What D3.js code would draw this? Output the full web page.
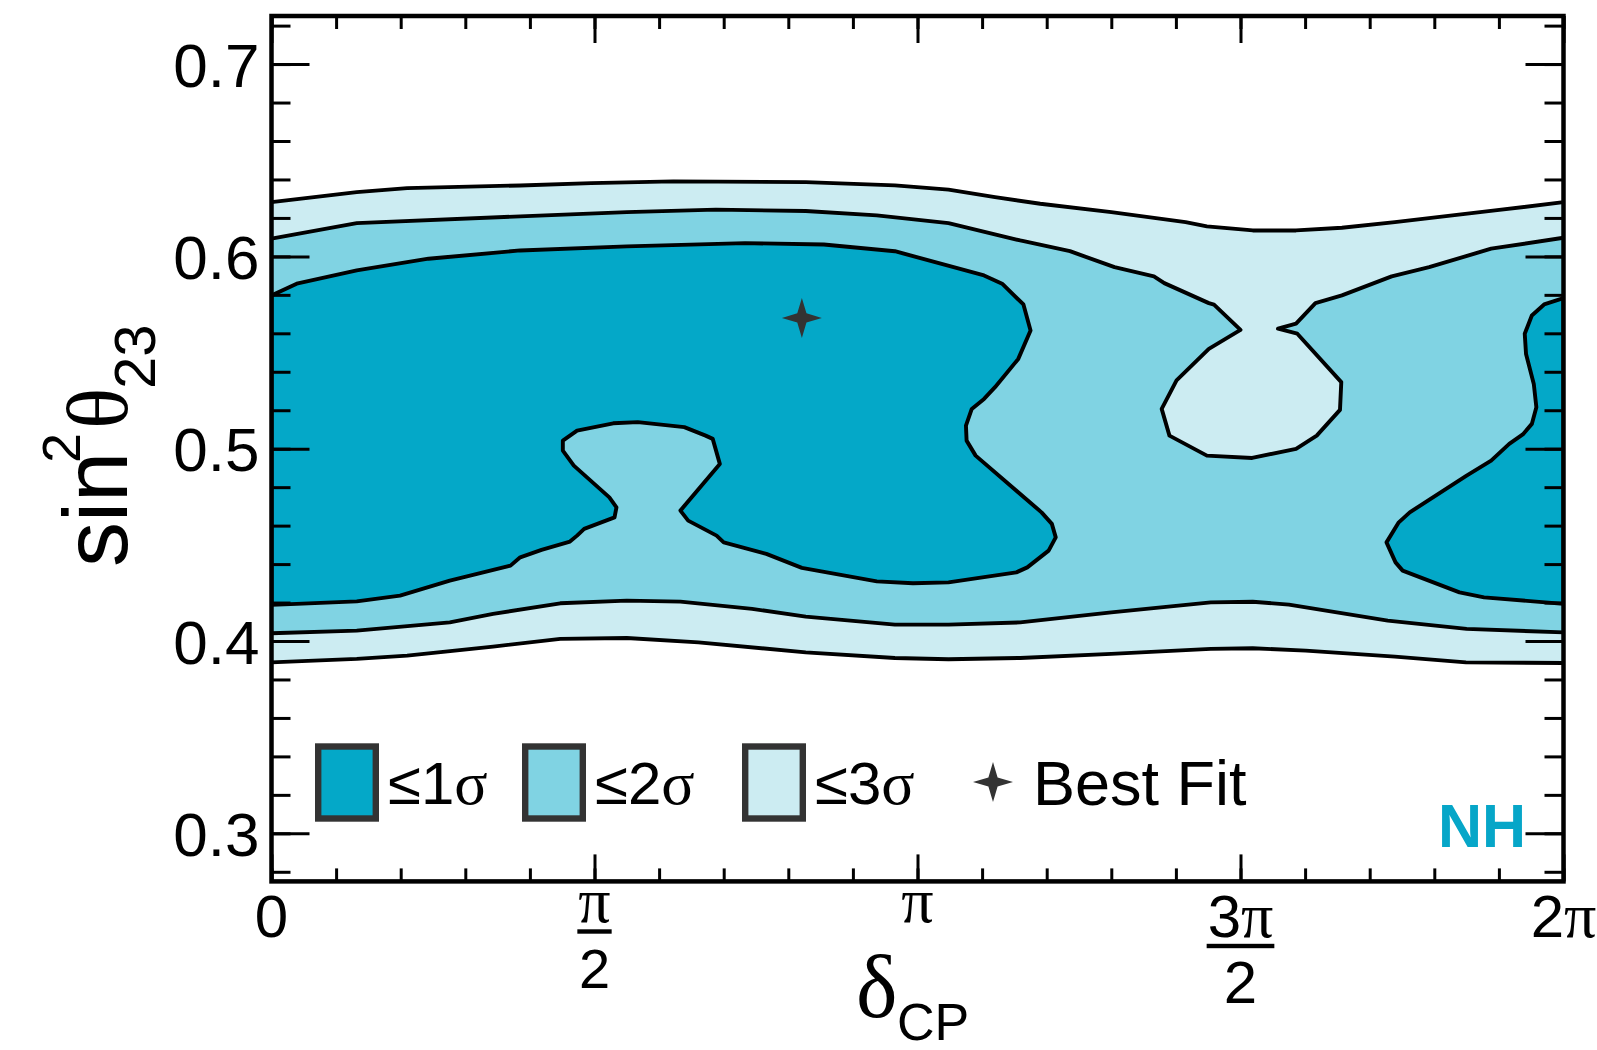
<!DOCTYPE html>
<html>
<head>
<meta charset="utf-8">
<script src="https://cdn.jsdelivr.net/npm/d3@7"></script>
<style>
  html, body { margin: 0; padding: 0; background: #fff; }
  svg { display: block; }
  .sans { font-family: "Liberation Sans", Arial, Helvetica, sans-serif; }
  .serif { font-family: "Liberation Serif", "Times New Roman", serif; }
</style>
</head>
<body>
<svg id="chart" width="1597" height="1050"></svg>
<script>
// δCP values are given in units of π; sin²θ23 is plotted directly.
const xMajorTicks = [0, 0.5, 1, 1.5, 2];
const xMinorTicks = d3.range(0, 2.0001, 0.1);
const yMajorTicks = [0.3, 0.4, 0.5, 0.6, 0.7];
const yMinorTicks = d3.range(0.28, 0.7201, 0.02);

// tick labels on the δCP axis: [numerator, denominator] (denominator empty when none)
const xTickLabels = [["0", ""], ["π", "2"], ["π", ""], ["3π", "2"], ["2π", ""]];

// 3σ allowed region: upper and lower boundaries
const sigma3Upper = [[0,0.6282],[0.132,0.6334],[0.210,0.6355],[0.385,0.6369],[0.495,0.6381],[0.622,0.6390],[0.827,0.6386],[0.965,0.6369],[1.048,0.6347],[1.120,0.6308],[1.190,0.6274],[1.300,0.6230],[1.415,0.6178],[1.448,0.6156],[1.519,0.6135],[1.586,0.6135],[1.657,0.6149],[1.739,0.6178],[1.894,0.6239],[2.0,0.6282]];
const sigma3Lower = [[0,0.3889],[0.132,0.3907],[0.210,0.3924],[0.343,0.3971],[0.447,0.4011],[0.550,0.4016],[0.661,0.3993],[0.827,0.3941],[0.965,0.3912],[1.048,0.3905],[1.159,0.3912],[1.300,0.3933],[1.454,0.3959],[1.519,0.3962],[1.601,0.3950],[1.739,0.3919],[1.849,0.3889],[2.0,0.3886]];

// 2σ allowed region: upper boundary dips around the 3σ pocket near 3π/2
const sigma2Upper = [[0,0.6092],[0.132,0.6173],[0.385,0.6208],[0.550,0.6230],[0.688,0.6243],[0.827,0.6236],[0.937,0.6213],[1.048,0.6173],[1.159,0.6083],[1.236,0.6027],[1.305,0.5944],[1.366,0.5896],[1.382,0.5861],[1.451,0.5757],[1.459,0.5749],[1.500,0.5618],[1.451,0.5519],[1.401,0.5355],[1.378,0.5207],[1.390,0.5068],[1.448,0.4964],[1.518,0.4952],[1.586,0.4999],[1.618,0.5068],[1.654,0.5202],[1.656,0.5346],[1.588,0.5598],[1.558,0.5624],[1.586,0.5650],[1.616,0.5757],[1.657,0.5797],[1.734,0.5896],[1.792,0.5944],[1.888,0.6040],[2.0,0.6097]];
const sigma2Lower = [[0,0.4040],[0.132,0.4054],[0.276,0.4097],[0.343,0.4141],[0.447,0.4196],[0.550,0.4210],[0.633,0.4205],[0.744,0.4167],[0.827,0.4127],[0.965,0.4085],[1.048,0.4085],[1.159,0.4097],[1.300,0.4149],[1.454,0.4201],[1.519,0.4204],[1.575,0.4189],[1.728,0.4106],[1.850,0.4063],[2.0,0.4045]];

// 1σ allowed regions (closed outlines)
const sigma1Main = [[0,0.5797],[0.039,0.5858],[0.132,0.5927],[0.243,0.5988],[0.385,0.6031],[0.550,0.6052],[0.733,0.6069],[0.855,0.6062],[0.965,0.6027],[1.103,0.5901],[1.131,0.5858],[1.164,0.5750],[1.175,0.5615],[1.156,0.5467],[1.120,0.5320],[1.103,0.5259],[1.084,0.5207],[1.075,0.5120],[1.076,0.5042],[1.090,0.4964],[1.192,0.4669],[1.208,0.4609],[1.214,0.4539],[1.203,0.4470],[1.170,0.4383],[1.153,0.4357],[1.048,0.4305],[0.993,0.4300],[0.937,0.4310],[0.821,0.4380],[0.766,0.4453],[0.700,0.4513],[0.689,0.4548],[0.645,0.4626],[0.633,0.4678],[0.694,0.4921],[0.683,0.5051],[0.672,0.5068],[0.639,0.5112],[0.567,0.5138],[0.529,0.5132],[0.473,0.5094],[0.451,0.5042],[0.451,0.4990],[0.468,0.4912],[0.523,0.4747],[0.534,0.4695],[0.531,0.4643],[0.484,0.4583],[0.473,0.4548],[0.462,0.4517],[0.418,0.4474],[0.385,0.4435],[0.370,0.4392],[0.276,0.4314],[0.199,0.4236],[0.132,0.4206],[0.039,0.4193],[0,0.4188]];
const sigma1Edge = [[2.0,0.5783],[1.970,0.5750],[1.951,0.5693],[1.940,0.5598],[1.942,0.5493],[1.954,0.5337],[1.958,0.5216],[1.951,0.5129],[1.937,0.5074],[1.916,0.5025],[1.888,0.4938],[1.850,0.4860],[1.762,0.4669],[1.745,0.4617],[1.726,0.4513],[1.740,0.4409],[1.751,0.4366],[1.839,0.4253],[1.877,0.4227],[2.0,0.4193]];

const bestFit = [0.821, 0.568];

const legendItems = [
  { level: "1", fill: "#04A8C8" },
  { level: "2", fill: "#80D3E3" },
  { level: "3", fill: "#CCECF2" }
];

// ---- layout ----
const svg = d3.select("#chart");
const plotL = 271.5, plotR = 1563.5, plotT = 16, plotB = 881.4;

const x = d3.scaleLinear().domain([0, 2]).range([plotL, plotR]);
const y = d3.scaleLinear().domain([0.275, 0.725]).range([plotB, plotT]);

svg.append("defs").append("clipPath").attr("id", "plotClip")
  .append("rect").attr("x", plotL).attr("y", plotT)
  .attr("width", plotR - plotL).attr("height", plotB - plotT);

const line = d3.line().x(d => x(d[0])).y(d => y(d[1]));
const band = (upper, lower) => line(upper.concat(lower.slice().reverse())) + "Z";

const plot = svg.append("g").attr("clip-path", "url(#plotClip)");

// fills
plot.append("path").attr("d", band(sigma3Upper, sigma3Lower)).attr("fill", legendItems[2].fill);
plot.append("path").attr("d", band(sigma2Upper, sigma2Lower)).attr("fill", legendItems[1].fill);
plot.append("path").attr("d", line(sigma1Main) + "Z").attr("fill", legendItems[0].fill);
plot.append("path").attr("d", line(sigma1Edge) + "Z").attr("fill", legendItems[0].fill);

// contour lines
const contourStyle = sel => sel.attr("fill", "none").attr("stroke", "#000")
  .attr("stroke-width", 3.9).attr("stroke-linejoin", "round");
[sigma3Upper, sigma3Lower, sigma2Upper, sigma2Lower].forEach(c =>
  plot.append("path").attr("d", line(c)).call(contourStyle));
plot.append("path").attr("d", line(sigma1Main) + "Z").call(contourStyle);
plot.append("path").attr("d", line(sigma1Edge) + "Z").call(contourStyle);

// four-pointed star marker
function star4(rOuter, rInner) {
  const pts = [];
  for (let i = 0; i < 8; i++) {
    const a = -Math.PI / 2 + i * Math.PI / 4;
    const r = i % 2 === 0 ? rOuter : rInner;
    pts.push([r * Math.cos(a), r * Math.sin(a)]);
  }
  return "M" + pts.map(p => p.join(",")).join("L") + "Z";
}
plot.append("path")
  .attr("d", star4(20, 6.5))
  .attr("transform", `translate(${x(bestFit[0])},${y(bestFit[1])})`)
  .attr("fill", "#333");

// ---- axes (ticks drawn inward on all four sides) ----
const tickStyle = g => {
  g.select(".domain").remove();
  g.selectAll(".tick line").attr("stroke", "#000").attr("stroke-width", 3);
  g.selectAll(".tick text").remove();
};
svg.append("g").attr("transform", `translate(0,${plotB})`)
  .call(d3.axisBottom(x).tickValues(xMinorTicks).tickSize(-13)).call(tickStyle);
svg.append("g").attr("transform", `translate(0,${plotB})`)
  .call(d3.axisBottom(x).tickValues(xMajorTicks).tickSize(-27)).call(tickStyle);
svg.append("g").attr("transform", `translate(0,${plotT})`)
  .call(d3.axisTop(x).tickValues(xMinorTicks).tickSize(-13)).call(tickStyle);
svg.append("g").attr("transform", `translate(0,${plotT})`)
  .call(d3.axisTop(x).tickValues(xMajorTicks).tickSize(-27)).call(tickStyle);
svg.append("g").attr("transform", `translate(${plotL},0)`)
  .call(d3.axisLeft(y).tickValues(yMinorTicks).tickSize(-19)).call(tickStyle);
svg.append("g").attr("transform", `translate(${plotL},0)`)
  .call(d3.axisLeft(y).tickValues(yMajorTicks).tickSize(-38)).call(tickStyle);
svg.append("g").attr("transform", `translate(${plotR},0)`)
  .call(d3.axisRight(y).tickValues(yMinorTicks).tickSize(-19)).call(tickStyle);
svg.append("g").attr("transform", `translate(${plotR},0)`)
  .call(d3.axisRight(y).tickValues(yMajorTicks).tickSize(-38)).call(tickStyle);

// frame
svg.append("rect").attr("x", plotL).attr("y", plotT)
  .attr("width", plotR - plotL).attr("height", plotB - plotT)
  .attr("fill", "none").attr("stroke", "#000").attr("stroke-width", 4.5);

// y tick labels
svg.append("g").selectAll("text").data(yMajorTicks).join("text")
  .attr("class", "sans")
  .attr("x", plotL - 12).attr("y", d => y(d) + 22.5)
  .attr("text-anchor", "end").attr("font-size", 62)
  .text(d => d3.format(".1f")(d));

// x tick labels, with π set in a serif face and fractions stacked
const xl = svg.append("g");
xMajorTicks.forEach((v, i) => {
  const [num, den] = xTickLabels[i];
  const cx = x(v);
  const frac = den !== "";
  const small = frac && num === "π";
  const numBase = (small || num === "π") ? 922 : 937;
  const t = xl.append("text").attr("x", cx).attr("y", numBase)
    .attr("text-anchor", "middle").attr("class", "sans").attr("font-size", 60);
  for (const ch of num) {
    t.append("tspan").attr("class", ch === "π" ? "serif" : "sans")
      .attr("font-size", ch === "π" ? 64 : 60).text(ch);
  }
  if (frac) {
    const w = t.node().getComputedTextLength();
    const barY = small ? 931.5 : 946;
    xl.append("rect").attr("x", cx - w / 2 - 1).attr("y", barY - 2.2)
      .attr("width", w + 2).attr("height", 4.4).attr("fill", "#000");
    xl.append("text").attr("class", "sans").attr("x", cx)
      .attr("y", small ? 988 : 1003).attr("text-anchor", "middle")
      .attr("font-size", small ? 56 : 60).text(den);
  }
});

// axis titles
const xt = svg.append("g");
xt.append("text").attr("class", "serif").attr("x", 856).attr("y", 1017)
  .attr("font-size", 88).text("δ");
xt.append("text").attr("class", "sans").attr("x", 897).attr("y", 1040)
  .attr("font-size", 52).text("CP");

const yt = svg.append("g").attr("transform", "rotate(-90)");
yt.append("text").attr("class", "sans").attr("x", -567).attr("y", 127)
  .attr("font-size", 90).text("sin");
yt.append("text").attr("class", "sans").attr("x", -463).attr("y", 80)
  .attr("font-size", 54).text("2");
yt.append("text").attr("class", "serif").attr("x", -429).attr("y", 127)
  .attr("font-size", 86).text("θ");
yt.append("text").attr("class", "sans").attr("x", -389).attr("y", 155)
  .attr("font-size", 58).text("23");

// legend
const legendBoxX = [315, 522, 742];
const lg = svg.append("g");
legendItems.forEach((item, i) => {
  const bx = legendBoxX[i];
  lg.append("rect").attr("x", bx + 3.2).attr("y", 746.5)
    .attr("width", 57.6).attr("height", 72)
    .attr("fill", item.fill).attr("stroke", "#333").attr("stroke-width", 6.4);
  const t = lg.append("text").attr("x", bx + 73).attr("y", 804)
    .attr("font-size", 60).attr("class", "sans");
  t.append("tspan").attr("class", "sans").text("≤" + item.level);
  t.append("tspan").attr("class", "serif").attr("font-size", 62).text("σ");
});
lg.append("path").attr("d", star4(20, 6.5))
  .attr("transform", "translate(993,782)").attr("fill", "#333");
lg.append("text").attr("class", "sans").attr("x", 1033).attr("y", 805)
  .attr("font-size", 63).text("Best Fit");

// hierarchy tag
svg.append("text").attr("class", "sans").attr("x", 1438).attr("y", 847)
  .attr("font-size", 61).attr("font-weight", "bold").attr("fill", "#06A6C8")
  .text("NH");
</script>
</body>
</html>
